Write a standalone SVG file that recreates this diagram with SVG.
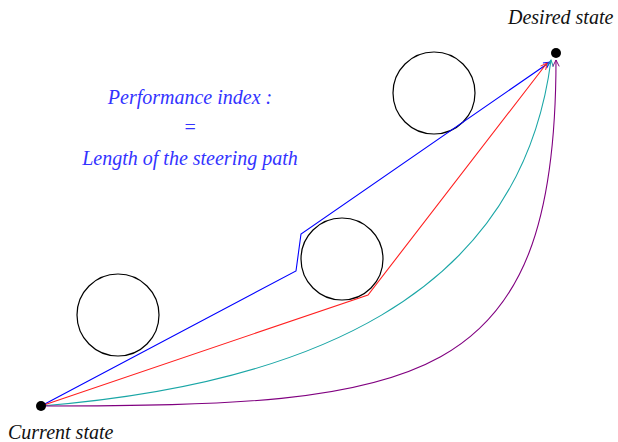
<svg xmlns="http://www.w3.org/2000/svg" width="618" height="442" viewBox="0 0 618 442">
<style>
.obs{fill:none;stroke:#000;stroke-width:1.2}
text{font-family:"Liberation Serif","Times New Roman",Times,"DejaVu Serif",serif;font-style:italic;font-size:20px}
.lbl{fill:#111}
.pi{fill:#3333ff;text-anchor:middle}
.p{fill:none;stroke-width:1.1}
</style>
<defs>
<marker id="ah" viewBox="0 0 10 10" refX="9" refY="5" markerWidth="8" markerHeight="8" orient="auto" markerUnits="userSpaceOnUse">
<path d="M1,1 L9,5 L1,9" fill="none" stroke="context-stroke" stroke-width="1.2"/>
</marker>
</defs>
<rect width="618" height="442" fill="#fff"/>
<g id="obstacle1"><circle class="obs" cx="434" cy="93" r="41"/></g>
<g id="obstacle2"><circle class="obs" cx="342" cy="259" r="41"/></g>
<g id="obstacle3"><circle class="obs" cx="118" cy="315" r="41"/></g>
<g id="connectors">
<path class="p" stroke="#0000ff" d="M41,406 L296,271 L301,234 L550,62" marker-end="url(#ah)"/>
<path class="p" stroke="#ff2020" d="M41,406 L368,295 L547,63" marker-end="url(#ah)"/>
<path class="p" stroke="#1aa6a6" d="M41,406 C300,385 520,300 551,60" marker-end="url(#ah)"/>
<path class="p" stroke="#800080" d="M41,406 C420,406 556,390 556,60" marker-end="url(#ah)"/>
</g>
<g id="current"><circle cx="41" cy="406" r="5" fill="#000"/><text class="lbl" x="8" y="439">Current state</text></g>
<g id="desired"><circle cx="556" cy="53" r="5" fill="#000"/><text class="lbl" x="508" y="24">Desired state</text></g>
<g id="perf">
<text class="pi" x="190" y="104">Performance index :</text>
<text class="pi" x="190" y="134">=</text>
<text class="pi" x="190" y="165">Length of the steering path</text>
</g>
</svg>
